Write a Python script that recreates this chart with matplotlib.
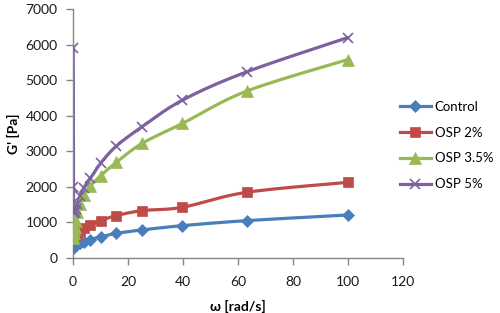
import numpy as np
import matplotlib
matplotlib.use("Agg")
import matplotlib.pyplot as plt

omega = [0.1, 0.158, 0.251, 0.398, 0.631, 1.0, 1.58, 2.51, 3.98, 6.31, 10.0, 15.8, 25.1, 39.8, 63.1, 100.0]
control = [270, 290, 300, 310, 330, 350, 380, 410, 455, 515, 590, 690, 787, 908, 1048, 1208]
osp2 = [550, 560, 580, 600, 630, 660, 710, 770, 840, 930, 1050, 1190, 1330, 1424, 1845, 2126]
osp35 = [550, 620, 700, 800, 880, 1050, 1300, 1530, 1760, 2020, 2310, 2690, 3221, 3783, 4691, 5581]
osp5 = [5900, 2000, 1350, 1250, 1280, 1380, 1530, 1730, 1980, 2240, 2660, 3150, 3688, 4438, 5233, 6200]
series_names = ["Control", "OSP 2%", "OSP 3.5%", "OSP 5%"]
x_ticks = [0, 20, 40, 60, 80, 100, 120]
y_ticks = [0, 1000, 2000, 3000, 4000, 5000, 6000, 7000]

plt.rcParams['font.family'] = ['Lato', 'DejaVu Sans']

def smooth(x, y, n=12):
    x = np.asarray(x, float); y = np.asarray(y, float)
    P = np.column_stack([x, y])
    P = np.vstack([P[0], P, P[-1]])
    out = []
    for i in range(1, len(P) - 2):
        p0, p1, p2, p3 = P[i-1], P[i], P[i+1], P[i+2]
        t = np.linspace(0, 1, n, endpoint=False)[:, None]
        pts = 0.5 * ((2*p1) + (-p0 + p2)*t + (2*p0 - 5*p1 + 4*p2 - p3)*t**2 + (-p0 + 3*p1 - 3*p2 + p3)*t**3)
        out.append(pts)
    out.append(P[-2][None, :])
    out = np.vstack(out)
    return out[:, 0], out[:, 1]

fig = plt.figure(figsize=(5.0, 3.13), dpi=100)
ax = fig.add_axes([0.146, 0.176, 0.66, 0.795])

styles = [
    ("#4A7EBB", "D", 6.5),
    ("#BE4B48", "s", 7),
    ("#98B954", "^", 8),
    ("#7D60A0", "x", 7),
]
data = [control, osp2, osp35, osp5]
handles = []
for name, ys, (c, m, ms) in zip(series_names, data, styles):
    sx, sy = smooth(omega, ys)
    ax.plot(sx, sy, color=c, lw=2.3, solid_capstyle='round', zorder=2)
    ax.plot(omega, ys, linestyle='none', marker=m, ms=ms, color=c, mec=c, mew=1.2 if m == 'x' else 0.5, zorder=3)
    h, = ax.plot([], [], color=c, lw=2.3, marker=m, ms=ms, mec=c, mew=1.2 if m == 'x' else 0.5)
    handles.append(h)

ax.set_xlim(0, 120)
ax.set_ylim(0, 7000)
ax.set_xticks(x_ticks)
ax.set_yticks(y_ticks)
for s in ['top', 'right']:
    ax.spines[s].set_visible(False)
for s in ['left', 'bottom']:
    ax.spines[s].set_color('#868686')
    ax.spines[s].set_linewidth(1.0)
ax.tick_params(direction='out', length=5, width=1, color='#868686', labelsize=10, labelcolor='#1a1a1a')
ax.tick_params(axis='x', pad=8)
ax.tick_params(axis='y', pad=6)

ax.set_ylabel("G' [Pa]", fontsize=10, fontweight='bold', labelpad=4)
ax.set_xlabel("ω [rad/s]", fontsize=10, fontweight='bold', labelpad=9)

fig.legend(handles, series_names, loc='upper left', bbox_to_anchor=(0.79, 0.695),
           frameon=False, fontsize=9.5, handlelength=2.3, labelspacing=1.05, handletextpad=0.3,
           borderaxespad=0)

fig.savefig("out.png", dpi=100)
